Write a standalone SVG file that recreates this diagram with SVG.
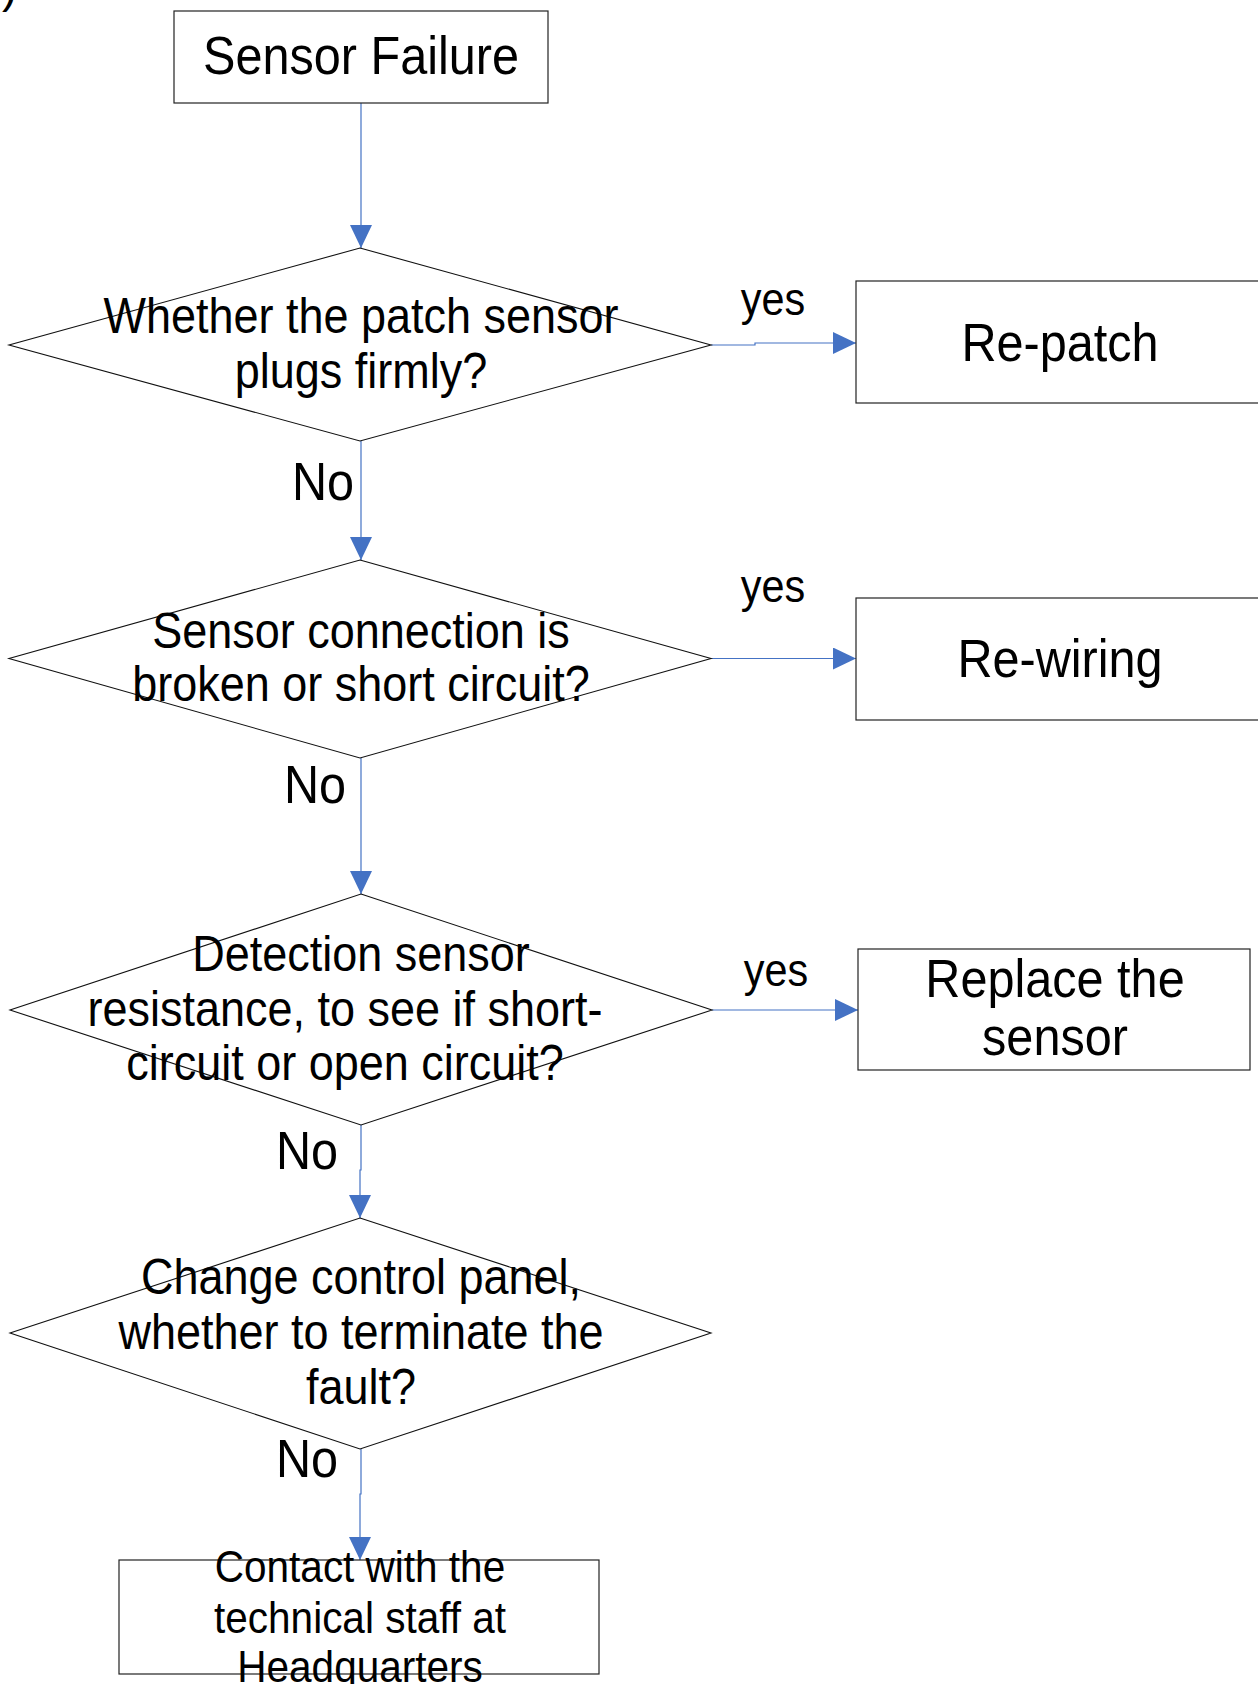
<svg xmlns="http://www.w3.org/2000/svg" width="1258" height="1684" viewBox="0 0 1258 1684">
<style>
  .box { fill: #ffffff; stroke: #222222; stroke-width: 1.2; }
  .dia { fill: #ffffff; stroke: #111111; stroke-width: 1.1; }
  .conn { fill: none; stroke: #4472C4; stroke-width: 1.2; }
  text { font-family: "Liberation Sans", Arial, sans-serif; fill: #000000; }
  .big { font-size: 54px; text-anchor: middle; }
  .mid { font-size: 50px; text-anchor: middle; }
  .sm { font-size: 45px; text-anchor: middle; }
  .no { font-size: 54px; text-anchor: end; }
  .yes { font-size: 46px; text-anchor: middle; }
</style>
<defs>
  <marker id="arr" viewBox="0 0 10 10" refX="10" refY="5" markerWidth="23" markerHeight="22" markerUnits="userSpaceOnUse" orient="auto" preserveAspectRatio="none">
    <path d="M0,0 L10,5 L0,10 Z" fill="#4472C4"/>
  </marker>
</defs>
<rect width="1258" height="1684" fill="#ffffff"/>
<text style="font-size:46px" x="2" y="2">)</text>

<g id="connectors">
  <path class="conn" d="M361,103 V248" marker-end="url(#arr)"/>
  <path class="conn" d="M711,345 H755 V343 H856" marker-end="url(#arr)"/>
  <path class="conn" d="M361,441 V560" marker-end="url(#arr)"/>
  <path class="conn" d="M711,658.5 H856" marker-end="url(#arr)"/>
  <path class="conn" d="M361,758 V894" marker-end="url(#arr)"/>
  <path class="conn" d="M712,1010 H858" marker-end="url(#arr)"/>
  <path class="conn" d="M361,1125 V1170 H360 V1218" marker-end="url(#arr)"/>
  <path class="conn" d="M361,1449 V1494 H360 V1560" marker-end="url(#arr)"/>
  <text class="yes" transform="translate(773,315) scale(0.9,1)">yes</text>
  <text class="yes" transform="translate(773,602) scale(0.9,1)">yes</text>
  <text class="yes" transform="translate(776,986) scale(0.9,1)">yes</text>
  <text class="no" transform="translate(354,500) scale(0.9,1)">No</text>
  <text class="no" transform="translate(346,803) scale(0.9,1)">No</text>
  <text class="no" transform="translate(338,1169) scale(0.9,1)">No</text>
  <text class="no" transform="translate(338,1477) scale(0.9,1)">No</text>
</g>

<g id="start">
  <rect class="box" x="174" y="11" width="374" height="92"/>
  <text class="big" transform="translate(361,74) scale(0.9,1)">Sensor Failure</text>
</g>

<g id="q1">
  <polygon class="dia" points="360,248 711,345 360,441 9,345"/>
  <text class="mid" transform="translate(361,333) scale(0.9,1)">Whether the patch sensor</text>
  <text class="mid" transform="translate(361,388) scale(0.9,1)">plugs firmly?</text>
</g>

<g id="repatch">
  <rect class="box" x="856" y="281" width="410" height="122"/>
  <text class="big" transform="translate(1060,361) scale(0.9,1)">Re-patch</text>
</g>

<g id="q2">
  <polygon class="dia" points="360,560 711,658.5 360,758 9,658.5"/>
  <text class="mid" transform="translate(361,648) scale(0.9,1)">Sensor connection is</text>
  <text class="mid" transform="translate(361,701) scale(0.9,1)">broken or short circuit?</text>
</g>

<g id="rewiring">
  <rect class="box" x="856" y="598" width="410" height="122"/>
  <text class="big" transform="translate(1060,677) scale(0.9,1)">Re-wiring</text>
</g>

<g id="q3">
  <polygon class="dia" points="361,894 712,1010 361,1125 10,1010"/>
  <text class="mid" transform="translate(361,971) scale(0.9,1)">Detection sensor</text>
  <text class="mid" transform="translate(345,1026) scale(0.9,1)">resistance, to see if short-</text>
  <text class="mid" transform="translate(345,1080) scale(0.9,1)">circuit or open circuit?</text>
</g>

<g id="replace">
  <rect class="box" x="858" y="949" width="392" height="121"/>
  <text class="big" transform="translate(1055,997) scale(0.9,1)">Replace the</text>
  <text class="big" transform="translate(1055,1055) scale(0.9,1)">sensor</text>
</g>

<g id="q4">
  <polygon class="dia" points="360,1218 711,1333 360,1449 10,1333"/>
  <text class="mid" transform="translate(361,1294) scale(0.9,1)">Change control panel,</text>
  <text class="mid" transform="translate(361,1349) scale(0.9,1)">whether to terminate the</text>
  <text class="mid" transform="translate(361,1404) scale(0.9,1)">fault?</text>
</g>

<g id="contact">
  <rect class="box" x="119" y="1560" width="480" height="114"/>
  <text class="sm" transform="translate(360,1582) scale(0.9,1)">Contact with the</text>
  <text class="sm" transform="translate(360,1633) scale(0.9,1)">technical staff at</text>
  <text class="sm" transform="translate(360,1682) scale(0.9,1)">Headquarters</text>
</g>
</svg>
